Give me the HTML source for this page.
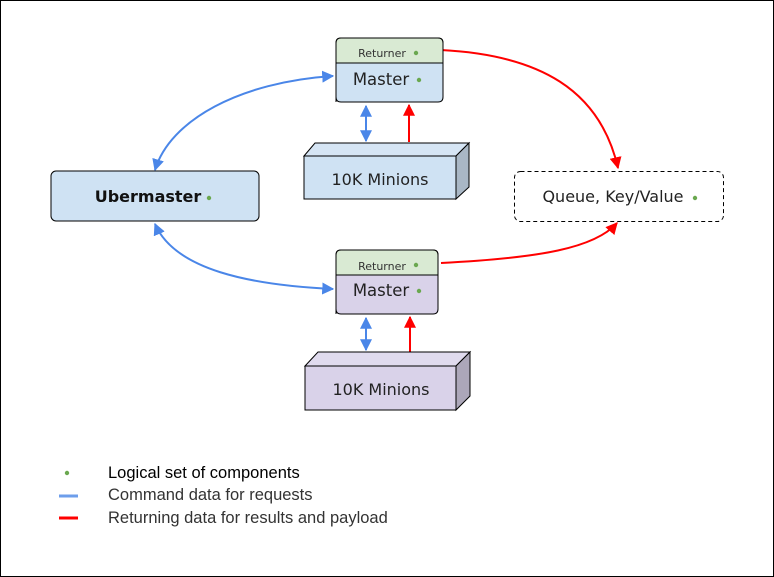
<!DOCTYPE html>
<html><head><meta charset="utf-8"><style>
html,body{margin:0;padding:0;background:#fff;}
svg{display:block;}
text{font-family:"DejaVu Sans","Liberation Sans",sans-serif;}
.lg{font-family:"Liberation Sans",sans-serif;font-size:16.5px;}
</style></head><body>
<svg width="774" height="577" viewBox="0 0 774 577" xmlns="http://www.w3.org/2000/svg">
<defs>
<marker id="b" viewBox="0 0 10 10" refX="9" refY="5" markerWidth="6" markerHeight="6" orient="auto-start-reverse"><path d="M0,0L10,5L0,10z" fill="#4a86e8"/></marker>
<marker id="r" viewBox="0 0 10 10" refX="9" refY="5" markerWidth="6" markerHeight="6" orient="auto"><path d="M0,0L10,5L0,10z" fill="#ff0000"/></marker>
</defs>
<rect x="0.5" y="0.5" width="773" height="576" fill="#fff" stroke="#000"/>

<path d="M333,76 C240,82 170,120 155,170" fill="none" stroke="#4a86e8" stroke-width="2" marker-start="url(#b)" marker-end="url(#b)"/>
<path d="M155,224 C175,270 250,285 333,289" fill="none" stroke="#4a86e8" stroke-width="2" marker-start="url(#b)" marker-end="url(#b)"/>
<path d="M441,50 C540,55 600,90 618,168" fill="none" stroke="#ff0000" stroke-width="2" marker-end="url(#r)"/>
<path d="M441,263 C540,258 595,248 617,223" fill="none" stroke="#ff0000" stroke-width="2" marker-end="url(#r)"/>
<path d="M366,106 L366,141" stroke="#4a86e8" stroke-width="2" marker-start="url(#b)" marker-end="url(#b)"/>
<path d="M409,142 L409,105" stroke="#ff0000" stroke-width="2" marker-end="url(#r)"/>
<path d="M366,318 L366,350" stroke="#4a86e8" stroke-width="2" marker-start="url(#b)" marker-end="url(#b)"/>
<path d="M410,352 L410,317" stroke="#ff0000" stroke-width="2" marker-end="url(#r)"/>

<path d="M336,102 L336,43 Q336,38 341,38 L438,38 Q443,38 443,43 L443,97 Q443,102 438,102 L341,102 Q336,102 336,97z" fill="#cfe2f3" stroke="#000"/>
<path d="M336,63 L336,43 Q336,38 341,38 L438,38 Q443,38 443,43 L443,63z" fill="#d9ead3" stroke="#000"/>
<text x="382" y="57" font-size="11" text-anchor="middle" fill="#333">Returner</text>
<circle cx="416" cy="53" r="2.2" fill="#6aa84f"/>
<text x="381" y="85" font-size="16.5" text-anchor="middle" fill="#222">Master</text>
<circle cx="419" cy="80" r="2.2" fill="#6aa84f"/>

<path d="M304,156 L315,143 L469,143 L456,156z" fill="#d6e5f4" stroke="#000"/>
<path d="M456,156 L469,143 L469,187 L456,199z" fill="#a9b7c5" stroke="#000"/>
<rect x="304" y="156" width="152" height="43" fill="#cfe2f3" stroke="#000"/>
<text x="380" y="185" font-size="16" text-anchor="middle" fill="#222">10K Minions</text>

<rect x="51" y="171" width="208" height="50" rx="5" fill="#cfe2f3" stroke="#000"/>
<text x="148" y="202" font-size="16" font-weight="bold" text-anchor="middle" fill="#111">Ubermaster</text>
<circle cx="209" cy="198" r="2.2" fill="#6aa84f"/>

<rect x="514.5" y="171.5" width="209" height="50" rx="6" fill="#fff" stroke="#000" stroke-dasharray="4,3"/>
<text x="613" y="202" font-size="16" text-anchor="middle" fill="#222">Queue, Key/Value</text>
<circle cx="695" cy="198" r="2.2" fill="#6aa84f"/>

<path d="M336,314 L336,255 Q336,250 341,250 L433,250 Q438,250 438,255 L438,309 Q438,314 433,314 L341,314 Q336,314 336,309z" fill="#d9d2e9" stroke="#000"/>
<path d="M336,275 L336,255 Q336,250 341,250 L433,250 Q438,250 438,255 L438,275z" fill="#d9ead3" stroke="#000"/>
<text x="382" y="270" font-size="11" text-anchor="middle" fill="#333">Returner</text>
<circle cx="416" cy="265" r="2.2" fill="#6aa84f"/>
<text x="381" y="296" font-size="16.5" text-anchor="middle" fill="#222">Master</text>
<circle cx="419" cy="291" r="2.2" fill="#6aa84f"/>

<path d="M305,366 L318,352 L470,352 L456,366z" fill="#e0dbee" stroke="#000"/>
<path d="M456,366 L470,352 L470,396 L456,410z" fill="#aca7b9" stroke="#000"/>
<rect x="305" y="366" width="151" height="44" fill="#d9d2e9" stroke="#000"/>
<text x="381" y="395" font-size="16" text-anchor="middle" fill="#222">10K Minions</text>

<circle cx="67" cy="473" r="2.2" fill="#6aa84f"/>
<line x1="59" y1="496" x2="78" y2="496" stroke="#6d9eeb" stroke-width="3"/>
<line x1="59" y1="518" x2="78" y2="518" stroke="#ff0000" stroke-width="3"/>
<text class="lg" x="108" y="478" fill="#000">Logical set of components</text>
<text class="lg" x="108" y="500" fill="#333">Command data for requests</text>
<text class="lg" x="108" y="523" fill="#333">Returning data for results and payload</text>
</svg>
</body></html>
